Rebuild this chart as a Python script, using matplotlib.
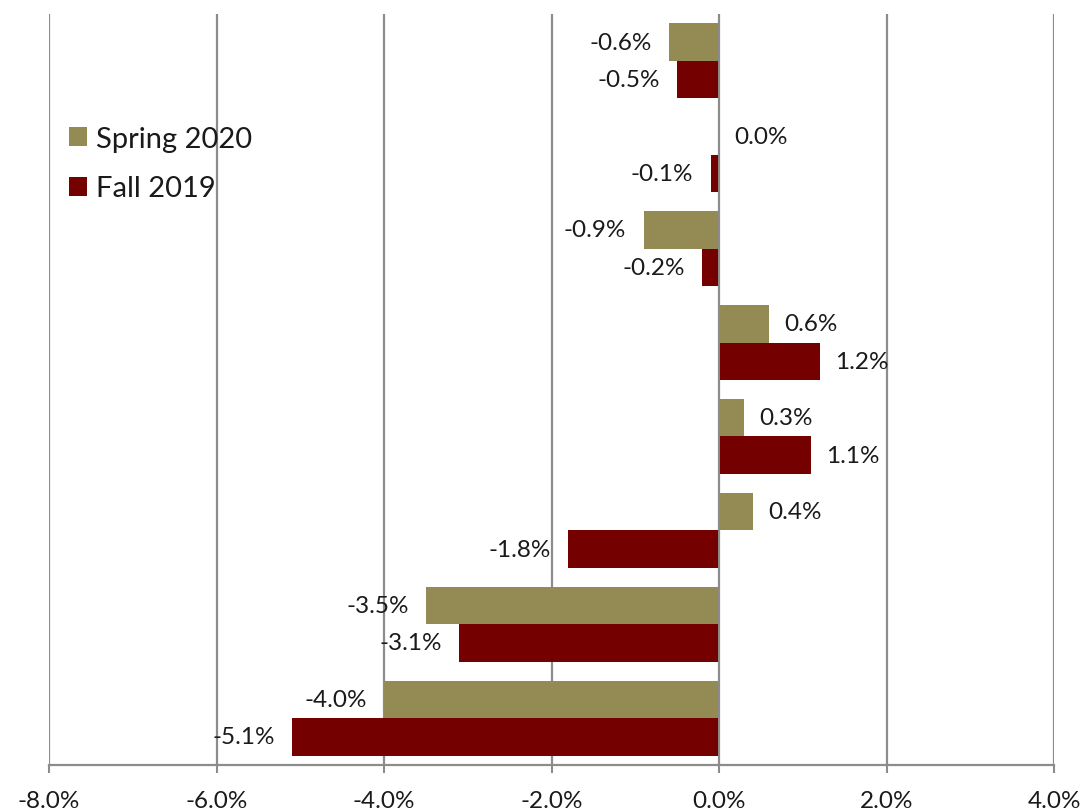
import matplotlib
matplotlib.use("Agg")
import matplotlib.pyplot as plt
from matplotlib.patches import Patch
import numpy as np

plt.rcParams['font.family'] = ['Lato', 'DejaVu Sans']

categories = ["1", "2", "3", "4", "5", "6", "7", "8"]
spring_2020 = [-0.6, 0.0, -0.9, 0.6, 0.3, 0.4, -3.5, -4.0]
fall_2019 = [-0.5, -0.1, -0.2, 1.2, 1.1, -1.8, -3.1, -5.1]
series_names = ["Spring 2020", "Fall 2019"]
x_ticks = [-8, -6, -4, -2, 0, 2, 4]
x_tick_labels = ["-8.0%", "-6.0%", "-4.0%", "-2.0%", "0.0%", "2.0%", "4.0%"]

c_spring = "#948A54"
c_fall = "#750000"
grid_c = "#8c8c8c"
txt_c = "#1a1a1a"

W, H = 1084, 812
fig = plt.figure(figsize=(W / 100, H / 100), dpi=100)
ax = fig.add_axes([49 / W, (H - 766) / H, (1054 - 49) / W, (766 - 15) / H])

y = np.arange(len(categories))
bh = 0.4
ax.barh(y - bh / 2, spring_2020, height=bh, color=c_spring, zorder=2, label=series_names[0])
ax.barh(y + bh / 2, fall_2019, height=bh, color=c_fall, zorder=2, label=series_names[1])

for xv in x_ticks:
    ax.axvline(xv, color=grid_c, lw=1.6, zorder=1)
ax.axvline(0, color=grid_c, lw=1.4, zorder=3)

ax.set_xlim(x_ticks[0], x_ticks[-1])
ax.set_ylim(len(categories) - 0.5, -0.5)

fs = 17.5
for vals, off in ((spring_2020, -bh / 2), (fall_2019, bh / 2)):
    for i, v in enumerate(vals):
        if v >= 0:
            ax.annotate(f"{v:.1f}%", (v, i + off), xytext=(11, 0), textcoords="offset points",
                        ha="left", va="center", fontsize=fs, color=txt_c, zorder=4)
        else:
            ax.annotate(f"{v:.1f}%", (v, i + off), xytext=(-12.5, 0), textcoords="offset points",
                        ha="right", va="center", fontsize=fs, color=txt_c, zorder=4)

ax.set_xticks(x_ticks)
ax.set_xticklabels(x_tick_labels, fontsize=fs, color=txt_c)
ax.set_yticks([])
ax.tick_params(axis="x", direction="out", length=6, width=1.5, color=grid_c, pad=12)
for s in ("top", "right", "left"):
    ax.spines[s].set_visible(False)
ax.spines["bottom"].set_color(grid_c)
ax.spines["bottom"].set_linewidth(1.6)

handles = [Patch(facecolor=c_spring), Patch(facecolor=c_fall)]
ax.legend(handles, series_names, loc="upper left", bbox_to_anchor=(69 / W, (H - 127) / H),
          bbox_transform=fig.transFigure, frameon=False, fontsize=21,
          handlelength=0.62, handleheight=0.62, handletextpad=0.3, labelspacing=0.8,
          borderpad=0, borderaxespad=0, labelcolor=txt_c)

fig.savefig("out.png", dpi=100, facecolor="white")
